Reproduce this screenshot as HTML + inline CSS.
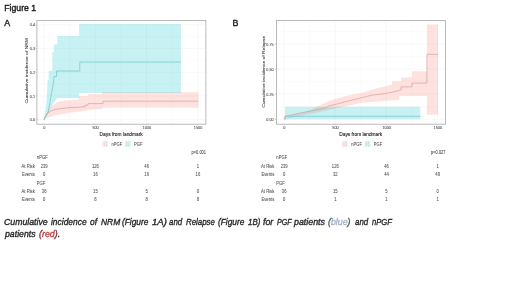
<!DOCTYPE html>
<html><head><meta charset="utf-8"><style>
html,body{margin:0;padding:0;background:#fff;}
body{width:520px;height:292px;position:relative;overflow:hidden;font-family:"Liberation Sans", sans-serif;}
#wrap{position:absolute;left:0;top:0;width:520px;height:292px;filter:blur(0.42px);}
svg{position:absolute;left:0;top:0;}
svg text{font-family:"Liberation Sans", sans-serif;}
.cap{position:absolute;transform-origin:0 0;font-size:9.2px;font-style:italic;color:#262626;white-space:nowrap;line-height:10px;-webkit-text-stroke:0.35px currentColor;}
.blue{color:#a2b1cc;}
.red{color:#c64040;}
.par{color:#555;}
.parr{color:#7a3a3a;}
</style></head><body><div id="wrap">
<svg width="520" height="292" viewBox="0 0 520 292">
<rect x="36.9" y="20.4" width="169.0" height="103.80000000000001" fill="#fff"/>
<line x1="69.62" y1="20.4" x2="69.62" y2="124.2" stroke="#f6f6f6" stroke-width="0.4"/>
<line x1="120.88" y1="20.4" x2="120.88" y2="124.2" stroke="#f6f6f6" stroke-width="0.4"/>
<line x1="172.12" y1="20.4" x2="172.12" y2="124.2" stroke="#f6f6f6" stroke-width="0.4"/>
<line x1="36.9" y1="107.88" x2="205.9" y2="107.88" stroke="#f6f6f6" stroke-width="0.4"/>
<line x1="36.9" y1="84.12" x2="205.9" y2="84.12" stroke="#f6f6f6" stroke-width="0.4"/>
<line x1="36.9" y1="60.38" x2="205.9" y2="60.38" stroke="#f6f6f6" stroke-width="0.4"/>
<line x1="36.9" y1="36.62" x2="205.9" y2="36.62" stroke="#f6f6f6" stroke-width="0.4"/>
<line x1="44.00" y1="20.4" x2="44.00" y2="124.2" stroke="#f4f4f4" stroke-width="0.6"/>
<line x1="95.25" y1="20.4" x2="95.25" y2="124.2" stroke="#f4f4f4" stroke-width="0.6"/>
<line x1="146.50" y1="20.4" x2="146.50" y2="124.2" stroke="#f4f4f4" stroke-width="0.6"/>
<line x1="197.75" y1="20.4" x2="197.75" y2="124.2" stroke="#f4f4f4" stroke-width="0.6"/>
<line x1="36.9" y1="119.75" x2="205.9" y2="119.75" stroke="#f4f4f4" stroke-width="0.6"/>
<line x1="36.9" y1="96.00" x2="205.9" y2="96.00" stroke="#f4f4f4" stroke-width="0.6"/>
<line x1="36.9" y1="72.25" x2="205.9" y2="72.25" stroke="#f4f4f4" stroke-width="0.6"/>
<line x1="36.9" y1="48.50" x2="205.9" y2="48.50" stroke="#f4f4f4" stroke-width="0.6"/>
<line x1="36.9" y1="24.75" x2="205.9" y2="24.75" stroke="#f4f4f4" stroke-width="0.6"/>
<polygon points="44.00,119.75 44.80,117.00 45.80,115.00 47.00,113.00 48.50,111.00 50.50,108.50 52.50,106.00 54.50,104.00 56.50,102.60 60.00,101.30 66.00,100.50 72.00,100.00 79.00,99.50 79.00,96.00 88.00,96.00 88.00,94.20 102.00,94.20 102.00,92.30 198.50,92.30 198.50,107.50 103.00,107.50 103.00,108.60 95.00,109.60 88.00,110.20 80.00,111.60 72.00,112.60 64.00,113.80 56.00,115.20 51.00,116.60 47.50,118.00 45.50,119.00 44.00,119.75" fill="#F8766D" fill-opacity="0.21"/>
<polygon points="44.00,119.75 44.60,115.00 45.50,110.00 46.30,104.00 46.80,96.00 47.30,88.00 47.60,80.00 48.60,80.00 48.60,71.00 52.30,71.00 52.30,52.00 54.00,52.00 54.00,44.60 57.30,44.60 57.30,36.00 79.20,36.00 79.20,24.00 180.90,24.00 180.90,92.90 79.20,92.90 79.20,98.00 56.50,98.00 56.50,99.50 54.00,102.50 52.00,106.00 50.00,110.00 48.00,113.50 46.00,116.50 44.00,119.75" fill="#00BFC4" fill-opacity="0.22"/>
<polyline points="44.00,119.75 45.00,117.00 46.00,115.20 47.00,114.00 48.50,112.60 50.00,111.60 52.00,110.60 55.00,109.60 58.00,109.00 62.00,108.50 68.00,107.80 78.00,107.20 85.00,106.60 85.00,105.20 88.00,105.20 88.00,103.60 103.00,103.60 103.00,101.20 198.50,101.20" fill="none" stroke="#cf8e8b" stroke-width="0.55" stroke-linejoin="round"/>
<polyline points="44.00,119.75 45.00,117.60 46.50,115.00 48.00,112.50 49.50,105.00 51.00,96.00 52.50,88.00 53.50,83.00 54.00,76.50 56.50,76.50 56.50,71.00 79.80,71.00 79.80,62.10 180.90,62.10" fill="none" stroke="#5cbfc1" stroke-width="0.6" stroke-linejoin="miter"/>
<rect x="36.9" y="20.4" width="169.0" height="103.80000000000001" fill="none" stroke="#a8a8a8" stroke-width="0.8"/>
<rect x="276.4" y="20.4" width="169.20000000000005" height="103.80000000000001" fill="#fff"/>
<line x1="309.58" y1="20.4" x2="309.58" y2="124.2" stroke="#f6f6f6" stroke-width="0.4"/>
<line x1="360.75" y1="20.4" x2="360.75" y2="124.2" stroke="#f6f6f6" stroke-width="0.4"/>
<line x1="411.91" y1="20.4" x2="411.91" y2="124.2" stroke="#f6f6f6" stroke-width="0.4"/>
<line x1="276.4" y1="106.67" x2="445.6" y2="106.67" stroke="#f6f6f6" stroke-width="0.4"/>
<line x1="276.4" y1="81.62" x2="445.6" y2="81.62" stroke="#f6f6f6" stroke-width="0.4"/>
<line x1="276.4" y1="56.58" x2="445.6" y2="56.58" stroke="#f6f6f6" stroke-width="0.4"/>
<line x1="276.4" y1="31.53" x2="445.6" y2="31.53" stroke="#f6f6f6" stroke-width="0.4"/>
<line x1="284.00" y1="20.4" x2="284.00" y2="124.2" stroke="#f4f4f4" stroke-width="0.6"/>
<line x1="335.17" y1="20.4" x2="335.17" y2="124.2" stroke="#f4f4f4" stroke-width="0.6"/>
<line x1="386.33" y1="20.4" x2="386.33" y2="124.2" stroke="#f4f4f4" stroke-width="0.6"/>
<line x1="437.50" y1="20.4" x2="437.50" y2="124.2" stroke="#f4f4f4" stroke-width="0.6"/>
<line x1="276.4" y1="119.20" x2="445.6" y2="119.20" stroke="#f4f4f4" stroke-width="0.6"/>
<line x1="276.4" y1="94.15" x2="445.6" y2="94.15" stroke="#f4f4f4" stroke-width="0.6"/>
<line x1="276.4" y1="69.10" x2="445.6" y2="69.10" stroke="#f4f4f4" stroke-width="0.6"/>
<line x1="276.4" y1="44.05" x2="445.6" y2="44.05" stroke="#f4f4f4" stroke-width="0.6"/>
<polygon points="284.00,119.20 290.00,116.00 300.00,113.00 310.00,110.50 318.00,106.30 330.00,100.50 345.00,96.30 355.00,94.00 365.00,91.90 372.00,89.50 385.00,86.50 392.00,84.40 392.00,81.25 401.00,81.25 401.00,77.50 412.00,77.50 412.00,71.25 426.90,71.25 426.90,24.50 438.10,24.50 438.10,114.80 426.90,114.80 426.90,96.00 399.00,96.00 399.00,100.00 385.00,100.80 372.00,102.00 360.00,103.00 345.00,106.50 335.00,108.50 320.00,112.00 305.00,115.00 290.00,118.00 284.00,119.20" fill="#F8766D" fill-opacity="0.21"/>
<polygon points="284,119.2 285,119.2 285,106.8 420.3,106.8 420.3,119.3 284,119.3" fill="#00BFC4" fill-opacity="0.22"/>
<polyline points="284.00,119.20 284.60,116.60 286.00,116.00 295.00,114.20 300.00,113.10 310.00,111.20 318.00,109.60 326.00,107.80 329.00,105.80 337.00,104.00 345.00,101.90 355.00,99.40 365.00,96.90 372.00,95.20 385.00,93.50 393.00,92.00 401.00,90.00 401.00,86.90 411.90,86.90 411.90,83.10 426.90,83.10 426.90,54.40 438.00,54.40" fill="none" stroke="#cf8e8b" stroke-width="0.55" stroke-linejoin="round"/>
<polyline points="284,119.2 285.4,119.2 285.4,116.3 420.3,116.3" fill="none" stroke="#5cbfc1" stroke-width="0.6"/>
<rect x="276.4" y="20.4" width="169.20000000000005" height="103.80000000000001" fill="none" stroke="#a8a8a8" stroke-width="0.8"/>
<text transform="translate(35.00,121.33) scale(0.86,1)" font-size="4.4" text-anchor="end" fill="#555" stroke="#555" stroke-width="0.1">0.0</text>
<text transform="translate(35.00,97.58) scale(0.86,1)" font-size="4.4" text-anchor="end" fill="#555" stroke="#555" stroke-width="0.1">0.1</text>
<text transform="translate(35.00,73.83) scale(0.86,1)" font-size="4.4" text-anchor="end" fill="#555" stroke="#555" stroke-width="0.1">0.2</text>
<text transform="translate(35.00,50.08) scale(0.86,1)" font-size="4.4" text-anchor="end" fill="#555" stroke="#555" stroke-width="0.1">0.3</text>
<text transform="translate(35.00,26.33) scale(0.86,1)" font-size="4.4" text-anchor="end" fill="#555" stroke="#555" stroke-width="0.1">0.4</text>
<text transform="translate(273.70,120.78) scale(0.86,1)" font-size="4.4" text-anchor="end" fill="#555" stroke="#555" stroke-width="0.1">0.00</text>
<text transform="translate(273.70,95.73) scale(0.86,1)" font-size="4.4" text-anchor="end" fill="#555" stroke="#555" stroke-width="0.1">0.25</text>
<text transform="translate(273.70,70.68) scale(0.86,1)" font-size="4.4" text-anchor="end" fill="#555" stroke="#555" stroke-width="0.1">0.50</text>
<text transform="translate(273.70,45.63) scale(0.86,1)" font-size="4.4" text-anchor="end" fill="#555" stroke="#555" stroke-width="0.1">0.75</text>
<text transform="translate(44.30,129.00) scale(0.86,1)" font-size="4.4" text-anchor="middle" fill="#555" stroke="#555" stroke-width="0.1">0</text>
<text transform="translate(284.30,129.00) scale(0.86,1)" font-size="4.4" text-anchor="middle" fill="#555" stroke="#555" stroke-width="0.1">0</text>
<text transform="translate(95.55,129.00) scale(0.86,1)" font-size="4.4" text-anchor="middle" fill="#555" stroke="#555" stroke-width="0.1">500</text>
<text transform="translate(335.47,129.00) scale(0.86,1)" font-size="4.4" text-anchor="middle" fill="#555" stroke="#555" stroke-width="0.1">500</text>
<text transform="translate(146.80,129.00) scale(0.86,1)" font-size="4.4" text-anchor="middle" fill="#555" stroke="#555" stroke-width="0.1">1000</text>
<text transform="translate(386.63,129.00) scale(0.86,1)" font-size="4.4" text-anchor="middle" fill="#555" stroke="#555" stroke-width="0.1">1000</text>
<text transform="translate(198.05,129.00) scale(0.86,1)" font-size="4.4" text-anchor="middle" fill="#555" stroke="#555" stroke-width="0.1">1500</text>
<text transform="translate(437.80,129.00) scale(0.86,1)" font-size="4.4" text-anchor="middle" fill="#555" stroke="#555" stroke-width="0.1">1500</text>
<line x1="35.6" y1="119.75" x2="36.9" y2="119.75" stroke="#888" stroke-width="0.4"/>
<line x1="35.6" y1="96.00" x2="36.9" y2="96.00" stroke="#888" stroke-width="0.4"/>
<line x1="35.6" y1="72.25" x2="36.9" y2="72.25" stroke="#888" stroke-width="0.4"/>
<line x1="35.6" y1="48.50" x2="36.9" y2="48.50" stroke="#888" stroke-width="0.4"/>
<line x1="35.6" y1="24.75" x2="36.9" y2="24.75" stroke="#888" stroke-width="0.4"/>
<line x1="274.8" y1="119.20" x2="276.4" y2="119.20" stroke="#888" stroke-width="0.4"/>
<line x1="274.8" y1="94.15" x2="276.4" y2="94.15" stroke="#888" stroke-width="0.4"/>
<line x1="274.8" y1="69.10" x2="276.4" y2="69.10" stroke="#888" stroke-width="0.4"/>
<line x1="274.8" y1="44.05" x2="276.4" y2="44.05" stroke="#888" stroke-width="0.4"/>
<line x1="44.00" y1="124.2" x2="44.00" y2="125.3" stroke="#bbb" stroke-width="0.4"/>
<line x1="284.00" y1="124.2" x2="284.00" y2="125.3" stroke="#bbb" stroke-width="0.4"/>
<line x1="95.25" y1="124.2" x2="95.25" y2="125.3" stroke="#bbb" stroke-width="0.4"/>
<line x1="335.17" y1="124.2" x2="335.17" y2="125.3" stroke="#bbb" stroke-width="0.4"/>
<line x1="146.50" y1="124.2" x2="146.50" y2="125.3" stroke="#bbb" stroke-width="0.4"/>
<line x1="386.33" y1="124.2" x2="386.33" y2="125.3" stroke="#bbb" stroke-width="0.4"/>
<line x1="197.75" y1="124.2" x2="197.75" y2="125.3" stroke="#bbb" stroke-width="0.4"/>
<line x1="437.50" y1="124.2" x2="437.50" y2="125.3" stroke="#bbb" stroke-width="0.4"/>
<text transform="translate(121.15,136.10) scale(0.86,1)" font-size="5.6" text-anchor="middle" fill="#262626" stroke="#262626" stroke-width="0.14">Days from landmark</text>
<text transform="translate(360.75,136.10) scale(0.86,1)" font-size="5.6" text-anchor="middle" fill="#262626" stroke="#262626" stroke-width="0.14">Days from landmark</text>
<text transform="translate(27.7,70.7) scale(0.86,1) rotate(-90)" x="0" y="0" font-size="5" text-anchor="middle" fill="#404040" stroke="#404040" stroke-width="0.1" textLength="65.4" lengthAdjust="spacingAndGlyphs">Cumulative incidence of NRM</text>
<text transform="translate(264.7,71.8) scale(0.86,1) rotate(-90)" x="0" y="0" font-size="5" text-anchor="middle" fill="#404040" stroke="#404040" stroke-width="0.1" textLength="72" lengthAdjust="spacingAndGlyphs">Cumulative incidence of Relapse</text>
<rect x="102.6" y="140.9" width="5.4" height="6.2" fill="#F8766D" fill-opacity="0.11"/>
<line x1="102.6" y1="142.9" x2="108.0" y2="142.9" stroke="#ebc2c2" stroke-width="0.45"/>
<line x1="102.6" y1="145.0" x2="108.0" y2="145.0" stroke="#ebc2c2" stroke-width="0.45"/>
<line x1="104.19999999999999" y1="140.9" x2="104.19999999999999" y2="147.1" stroke="#ebc2c2" stroke-width="0.4"/>
<line x1="106.3" y1="140.9" x2="106.3" y2="147.1" stroke="#ebc2c2" stroke-width="0.4"/>
<rect x="125.2" y="140.9" width="5.4" height="6.2" fill="#00BFC4" fill-opacity="0.11"/>
<line x1="125.2" y1="142.9" x2="130.6" y2="142.9" stroke="#a9dcdc" stroke-width="0.45"/>
<line x1="125.2" y1="145.0" x2="130.6" y2="145.0" stroke="#a9dcdc" stroke-width="0.45"/>
<line x1="126.8" y1="140.9" x2="126.8" y2="147.1" stroke="#a9dcdc" stroke-width="0.4"/>
<line x1="128.9" y1="140.9" x2="128.9" y2="147.1" stroke="#a9dcdc" stroke-width="0.4"/>
<text transform="translate(111.60,146.10) scale(0.9,1)" font-size="4.5" text-anchor="start" fill="#4a4a4a" stroke="#4a4a4a" stroke-width="0.06">nPGF</text>
<text transform="translate(134.10,146.10) scale(0.9,1)" font-size="4.5" text-anchor="start" fill="#4a4a4a" stroke="#4a4a4a" stroke-width="0.06">PGF</text>
<rect x="342.3" y="140.9" width="5.4" height="6.2" fill="#F8766D" fill-opacity="0.11"/>
<line x1="342.3" y1="142.9" x2="347.7" y2="142.9" stroke="#ebc2c2" stroke-width="0.45"/>
<line x1="342.3" y1="145.0" x2="347.7" y2="145.0" stroke="#ebc2c2" stroke-width="0.45"/>
<line x1="343.90000000000003" y1="140.9" x2="343.90000000000003" y2="147.1" stroke="#ebc2c2" stroke-width="0.4"/>
<line x1="346.0" y1="140.9" x2="346.0" y2="147.1" stroke="#ebc2c2" stroke-width="0.4"/>
<rect x="364.9" y="140.9" width="5.4" height="6.2" fill="#00BFC4" fill-opacity="0.11"/>
<line x1="364.9" y1="142.9" x2="370.29999999999995" y2="142.9" stroke="#a9dcdc" stroke-width="0.45"/>
<line x1="364.9" y1="145.0" x2="370.29999999999995" y2="145.0" stroke="#a9dcdc" stroke-width="0.45"/>
<line x1="366.5" y1="140.9" x2="366.5" y2="147.1" stroke="#a9dcdc" stroke-width="0.4"/>
<line x1="368.59999999999997" y1="140.9" x2="368.59999999999997" y2="147.1" stroke="#a9dcdc" stroke-width="0.4"/>
<text transform="translate(351.30,146.10) scale(0.9,1)" font-size="4.5" text-anchor="start" fill="#4a4a4a" stroke="#4a4a4a" stroke-width="0.06">nPGF</text>
<text transform="translate(373.80,146.10) scale(0.9,1)" font-size="4.5" text-anchor="start" fill="#4a4a4a" stroke="#4a4a4a" stroke-width="0.06">PGF</text>
<text transform="translate(206.00,153.70) scale(0.86,1)" font-size="4.6" text-anchor="end" fill="#444" stroke="#444" stroke-width="0.06">p=0.001</text>
<text transform="translate(36.80,159.15) scale(0.86,1)" font-size="4.9" text-anchor="start" fill="#4a4a4a" stroke="#4a4a4a" stroke-width="0.05">nPGF</text>
<text transform="translate(34.80,168.05) scale(0.86,1)" font-size="4.9" text-anchor="end" fill="#4a4a4a" stroke="#4a4a4a" stroke-width="0.05">At Risk</text>
<text transform="translate(34.80,176.15) scale(0.86,1)" font-size="4.9" text-anchor="end" fill="#4a4a4a" stroke="#4a4a4a" stroke-width="0.05">Events</text>
<text transform="translate(36.80,184.75) scale(0.86,1)" font-size="4.9" text-anchor="start" fill="#4a4a4a" stroke="#4a4a4a" stroke-width="0.05">PGF</text>
<text transform="translate(34.80,193.15) scale(0.86,1)" font-size="4.9" text-anchor="end" fill="#4a4a4a" stroke="#4a4a4a" stroke-width="0.05">At Risk</text>
<text transform="translate(34.80,201.35) scale(0.86,1)" font-size="4.9" text-anchor="end" fill="#4a4a4a" stroke="#4a4a4a" stroke-width="0.05">Events</text>
<text transform="translate(44.20,168.05) scale(0.86,1)" font-size="4.9" text-anchor="middle" fill="#4a4a4a" stroke="#4a4a4a" stroke-width="0.05">239</text>
<text transform="translate(95.45,168.05) scale(0.86,1)" font-size="4.9" text-anchor="middle" fill="#4a4a4a" stroke="#4a4a4a" stroke-width="0.05">126</text>
<text transform="translate(146.70,168.05) scale(0.86,1)" font-size="4.9" text-anchor="middle" fill="#4a4a4a" stroke="#4a4a4a" stroke-width="0.05">46</text>
<text transform="translate(197.95,168.05) scale(0.86,1)" font-size="4.9" text-anchor="middle" fill="#4a4a4a" stroke="#4a4a4a" stroke-width="0.05">1</text>
<text transform="translate(44.20,176.15) scale(0.86,1)" font-size="4.9" text-anchor="middle" fill="#4a4a4a" stroke="#4a4a4a" stroke-width="0.05">0</text>
<text transform="translate(95.45,176.15) scale(0.86,1)" font-size="4.9" text-anchor="middle" fill="#4a4a4a" stroke="#4a4a4a" stroke-width="0.05">16</text>
<text transform="translate(146.70,176.15) scale(0.86,1)" font-size="4.9" text-anchor="middle" fill="#4a4a4a" stroke="#4a4a4a" stroke-width="0.05">16</text>
<text transform="translate(197.95,176.15) scale(0.86,1)" font-size="4.9" text-anchor="middle" fill="#4a4a4a" stroke="#4a4a4a" stroke-width="0.05">16</text>
<text transform="translate(44.20,193.15) scale(0.86,1)" font-size="4.9" text-anchor="middle" fill="#4a4a4a" stroke="#4a4a4a" stroke-width="0.05">36</text>
<text transform="translate(95.45,193.15) scale(0.86,1)" font-size="4.9" text-anchor="middle" fill="#4a4a4a" stroke="#4a4a4a" stroke-width="0.05">15</text>
<text transform="translate(146.70,193.15) scale(0.86,1)" font-size="4.9" text-anchor="middle" fill="#4a4a4a" stroke="#4a4a4a" stroke-width="0.05">5</text>
<text transform="translate(197.95,193.15) scale(0.86,1)" font-size="4.9" text-anchor="middle" fill="#4a4a4a" stroke="#4a4a4a" stroke-width="0.05">0</text>
<text transform="translate(44.20,201.35) scale(0.86,1)" font-size="4.9" text-anchor="middle" fill="#4a4a4a" stroke="#4a4a4a" stroke-width="0.05">0</text>
<text transform="translate(95.45,201.35) scale(0.86,1)" font-size="4.9" text-anchor="middle" fill="#4a4a4a" stroke="#4a4a4a" stroke-width="0.05">8</text>
<text transform="translate(146.70,201.35) scale(0.86,1)" font-size="4.9" text-anchor="middle" fill="#4a4a4a" stroke="#4a4a4a" stroke-width="0.05">8</text>
<text transform="translate(197.95,201.35) scale(0.86,1)" font-size="4.9" text-anchor="middle" fill="#4a4a4a" stroke="#4a4a4a" stroke-width="0.05">8</text>
<text transform="translate(445.50,153.70) scale(0.86,1)" font-size="4.6" text-anchor="end" fill="#444" stroke="#444" stroke-width="0.06">p=0.027</text>
<text transform="translate(276.30,159.15) scale(0.86,1)" font-size="4.9" text-anchor="start" fill="#4a4a4a" stroke="#4a4a4a" stroke-width="0.05">nPGF</text>
<text transform="translate(274.30,168.05) scale(0.86,1)" font-size="4.9" text-anchor="end" fill="#4a4a4a" stroke="#4a4a4a" stroke-width="0.05">At Risk</text>
<text transform="translate(274.30,176.15) scale(0.86,1)" font-size="4.9" text-anchor="end" fill="#4a4a4a" stroke="#4a4a4a" stroke-width="0.05">Events</text>
<text transform="translate(276.30,184.75) scale(0.86,1)" font-size="4.9" text-anchor="start" fill="#4a4a4a" stroke="#4a4a4a" stroke-width="0.05">PGF</text>
<text transform="translate(274.30,193.15) scale(0.86,1)" font-size="4.9" text-anchor="end" fill="#4a4a4a" stroke="#4a4a4a" stroke-width="0.05">At Risk</text>
<text transform="translate(274.30,201.35) scale(0.86,1)" font-size="4.9" text-anchor="end" fill="#4a4a4a" stroke="#4a4a4a" stroke-width="0.05">Events</text>
<text transform="translate(284.20,168.05) scale(0.86,1)" font-size="4.9" text-anchor="middle" fill="#4a4a4a" stroke="#4a4a4a" stroke-width="0.05">239</text>
<text transform="translate(335.37,168.05) scale(0.86,1)" font-size="4.9" text-anchor="middle" fill="#4a4a4a" stroke="#4a4a4a" stroke-width="0.05">126</text>
<text transform="translate(386.53,168.05) scale(0.86,1)" font-size="4.9" text-anchor="middle" fill="#4a4a4a" stroke="#4a4a4a" stroke-width="0.05">46</text>
<text transform="translate(437.69,168.05) scale(0.86,1)" font-size="4.9" text-anchor="middle" fill="#4a4a4a" stroke="#4a4a4a" stroke-width="0.05">1</text>
<text transform="translate(284.20,176.15) scale(0.86,1)" font-size="4.9" text-anchor="middle" fill="#4a4a4a" stroke="#4a4a4a" stroke-width="0.05">0</text>
<text transform="translate(335.37,176.15) scale(0.86,1)" font-size="4.9" text-anchor="middle" fill="#4a4a4a" stroke="#4a4a4a" stroke-width="0.05">32</text>
<text transform="translate(386.53,176.15) scale(0.86,1)" font-size="4.9" text-anchor="middle" fill="#4a4a4a" stroke="#4a4a4a" stroke-width="0.05">44</text>
<text transform="translate(437.69,176.15) scale(0.86,1)" font-size="4.9" text-anchor="middle" fill="#4a4a4a" stroke="#4a4a4a" stroke-width="0.05">49</text>
<text transform="translate(284.20,193.15) scale(0.86,1)" font-size="4.9" text-anchor="middle" fill="#4a4a4a" stroke="#4a4a4a" stroke-width="0.05">36</text>
<text transform="translate(335.37,193.15) scale(0.86,1)" font-size="4.9" text-anchor="middle" fill="#4a4a4a" stroke="#4a4a4a" stroke-width="0.05">15</text>
<text transform="translate(386.53,193.15) scale(0.86,1)" font-size="4.9" text-anchor="middle" fill="#4a4a4a" stroke="#4a4a4a" stroke-width="0.05">5</text>
<text transform="translate(437.69,193.15) scale(0.86,1)" font-size="4.9" text-anchor="middle" fill="#4a4a4a" stroke="#4a4a4a" stroke-width="0.05">0</text>
<text transform="translate(284.20,201.35) scale(0.86,1)" font-size="4.9" text-anchor="middle" fill="#4a4a4a" stroke="#4a4a4a" stroke-width="0.05">0</text>
<text transform="translate(335.37,201.35) scale(0.86,1)" font-size="4.9" text-anchor="middle" fill="#4a4a4a" stroke="#4a4a4a" stroke-width="0.05">1</text>
<text transform="translate(386.53,201.35) scale(0.86,1)" font-size="4.9" text-anchor="middle" fill="#4a4a4a" stroke="#4a4a4a" stroke-width="0.05">1</text>
<text transform="translate(437.69,201.35) scale(0.86,1)" font-size="4.9" text-anchor="middle" fill="#4a4a4a" stroke="#4a4a4a" stroke-width="0.05">1</text>
<text x="4.3" y="10.5" font-size="8.4" text-anchor="start" fill="#1c1c1c" stroke="#1c1c1c" stroke-width="0.38" textLength="31.8" lengthAdjust="spacingAndGlyphs">Figure 1</text>
<text x="4.2" y="26.3" font-size="8.8" text-anchor="start" fill="#1c1c1c" stroke="#1c1c1c" stroke-width="0.38">A</text>
<text x="232.4" y="26.3" font-size="8.8" text-anchor="start" fill="#1c1c1c" stroke="#1c1c1c" stroke-width="0.38">B</text>
</svg>
<div class="cap" style="top:217.35px;left:4.26px;transform:scaleX(0.951)">Cumulative</div>
<div class="cap" style="top:217.35px;left:51.00px;transform:scaleX(0.916)">incidence</div>
<div class="cap" style="top:217.35px;left:90.00px;transform:scaleX(0.914)">of</div>
<div class="cap" style="top:217.35px;left:100.50px;transform:scaleX(0.918)">NRM</div>
<div class="cap" style="top:217.35px;left:122.27px;transform:scaleX(0.904)">(Figure</div>
<div class="cap" style="top:217.35px;left:152.00px;transform:scaleX(1.036)">1A)</div>
<div class="cap" style="top:217.35px;left:169.00px;transform:scaleX(0.857)">and</div>
<div class="cap" style="top:217.35px;left:185.50px;transform:scaleX(0.859)">Relapse</div>
<div class="cap" style="top:217.35px;left:218.27px;transform:scaleX(0.904)">(Figure</div>
<div class="cap" style="top:217.35px;left:248.00px;transform:scaleX(0.857)">1B)</div>
<div class="cap" style="top:217.35px;left:263.00px;transform:scaleX(0.96)">for</div>
<div class="cap" style="top:217.35px;left:276.80px;transform:scaleX(0.769)">PGF</div>
<div class="cap" style="top:217.35px;left:294.48px;transform:scaleX(0.962)">patients</div>
<div class="cap" style="top:217.35px;left:328.26px;transform:scaleX(0.957)"><span class="par">(</span><span class="blue">blue</span><span class="par">)</span></div>
<div class="cap" style="top:217.35px;left:354.50px;transform:scaleX(0.857)">and</div>
<div class="cap" style="top:217.35px;left:371.50px;transform:scaleX(0.828)">nPGF</div>
<div class="cap" style="top:228.9px;left:4.88px;transform:scaleX(0.953)">patients</div>
<div class="cap" style="top:228.9px;left:38.51px;transform:scaleX(0.964)"><span class="parr">(</span><span class="red">red</span><span class="parr">)</span>.</div>
</div></body></html>
